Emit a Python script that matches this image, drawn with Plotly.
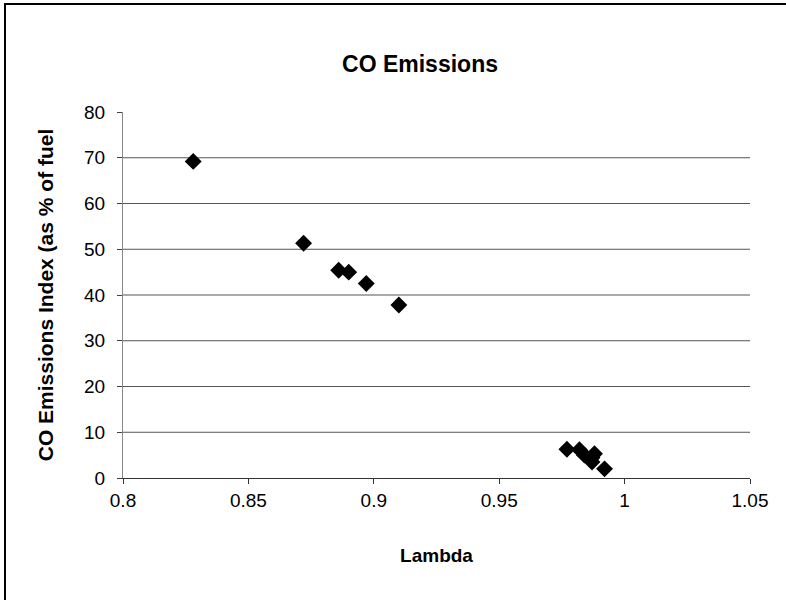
import plotly.graph_objects as go

# Data
lambda_vals = [0.828, 0.872, 0.886, 0.890, 0.897, 0.910,
               0.977, 0.982, 0.984, 0.987, 0.988, 0.987, 0.992]
co_index = [69.2, 51.3, 45.4, 45.0, 42.5, 37.8,
            6.3, 6.2, 5.0, 4.4, 5.3, 3.5, 2.0]

x_ticks = [0.8, 0.85, 0.9, 0.95, 1.0, 1.05]
x_tick_text = ["0.8", "0.85", "0.9", "0.95", "1", "1.05"]
y_ticks = [0, 10, 20, 30, 40, 50, 60, 70, 80]

FONT = "Liberation Sans, Arial, sans-serif"

fig = go.Figure()
fig.add_trace(go.Scatter(
    x=lambda_vals, y=co_index, mode="markers",
    marker=dict(symbol="diamond", size=13, color="black",
                line=dict(width=0)),
    showlegend=False,
))

for yv in y_ticks[1:-1]:
    fig.add_hline(y=yv, line=dict(color="#555555", width=1), layer="below")

fig.add_shape(type="rect", xref="paper", yref="paper",
              x0=(5 - 123) / 627, x1=(800 - 123) / 627,
              y0=(478 - 620) / 366, y1=(478 - 4) / 366,
              line=dict(color="black", width=2), fillcolor="rgba(0,0,0,0)")

fig.update_layout(
    width=786, height=600,
    margin=dict(l=123, r=36, t=112, b=122),
    paper_bgcolor="white", plot_bgcolor="white",
    font=dict(family=FONT, color="black"),
    title=dict(text="<b>CO Emissions</b>", x=420 / 786, xanchor="center",
               y=1 - 64 / 600, yanchor="middle",
               font=dict(size=23, family=FONT, color="black")),
    xaxis=dict(
        range=[0.8, 1.05], tickvals=x_ticks, ticktext=x_tick_text,
        showgrid=False, zeroline=False,
        showline=True, linecolor="#333333", linewidth=1,
        ticks="outside", ticklen=5, tickcolor="#333333",
        tickfont=dict(size=19, family=FONT),
        title=dict(text="<b>Lambda</b>", font=dict(size=19, family=FONT), standoff=38),
    ),
    yaxis=dict(
        range=[0, 80], tickvals=y_ticks,
        showgrid=False, zeroline=False,
        showline=True, linecolor="#888888", linewidth=1,
        ticks="outside", ticklen=5, tickcolor="#444444",
        ticklabelstandoff=8,
        tickfont=dict(size=19, family=FONT),
        title=dict(text="<b>CO Emissions Index (as % of fuel</b>",
                   font=dict(size=21, family=FONT), standoff=24),
    ),
)

fig.write_html("out.html")
